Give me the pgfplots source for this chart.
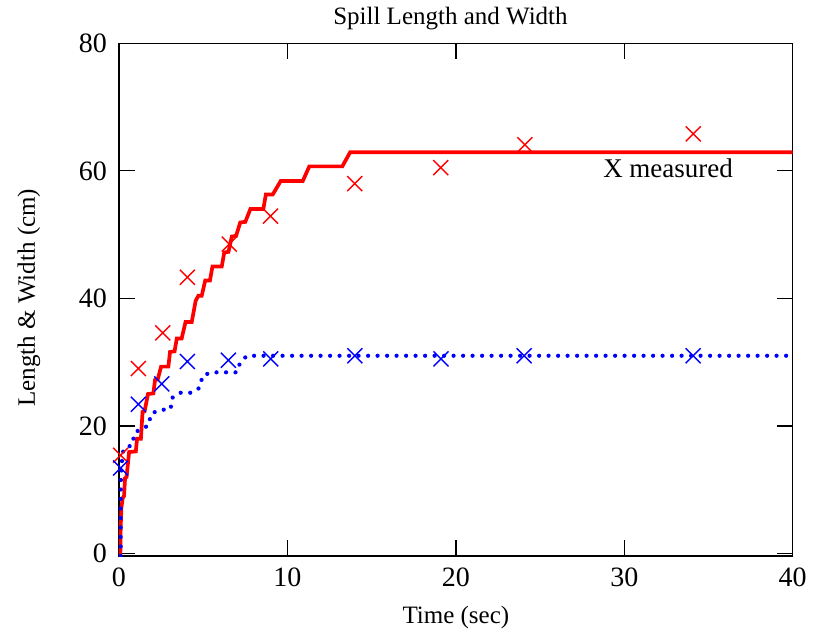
\documentclass[border=0pt]{standalone}
\usepackage{fontspec}
\setmainfont{Liberation Serif}
\usepackage{pgfplots}
\pgfplotsset{compat=1.18}
\definecolor{pred}{RGB}{255,0,0}
\definecolor{pblue}{RGB}{0,0,255}
\begin{document}
\begin{tikzpicture}[x=1pt,y=1pt]
\useasboundingbox (-119,-76) rectangle (698,556);
\begin{axis}[
  at={(0,0)}, anchor=south west,
  scale only axis, width=673.7pt, height=512.7pt,
  xmin=0, xmax=40, ymin=-0.4, ymax=80,
  xtick={0,10,20,30,40}, ytick={0,20,40,60,80},
  minor tick num=0,
  tick align=inside, major tick length=16pt,
  axis line style={line width=1.3pt, black},
  tick style={line width=1.3pt, black},
  /pgf/number format/assume math mode=true,
  ticklabel style={font=\fontsize{28}{28}\selectfont, inner sep=0pt},
  xticklabel style={yshift=-12pt},
  yticklabel style={xshift=-12pt},
  title={Spill Length and Width},
  title style={font=\fontsize{25}{25}\selectfont, at={(axis description cs:0.492,1.0244)}, anchor=base, inner sep=0pt},
  xlabel={Time (sec)},
  xlabel style={font=\fontsize{25}{25}\selectfont, at={(axis description cs:0.5,-0.1307)}, anchor=base, inner sep=0pt},
  ylabel={Length \& Width (cm)},
  ylabel style={font=\fontsize{25}{25}\selectfont, at={(axis description cs:-0.1247,0.504)}, anchor=base, inner sep=0pt},
]
% red line (length)
\addplot[pred, line width=3.7pt, line join=miter] coordinates {
(0.08,-0.4) (0.1,4) (0.14,7.1) (0.22,8.7) (0.3,9.0) (0.36,11.8) (0.45,12.0)
(0.6,15.9) (1.0,16.0) (1.07,18.0) (1.3,18.0) (1.4,22.2) (1.52,22.3)
(1.72,25.0) (2.04,25.1) (2.14,27.2) (2.3,27.3) (2.5,29.3) (2.93,29.3)
(3.03,31.6) (3.3,31.7) (3.43,33.7) (3.72,33.7) (3.95,36.3) (4.32,36.3)
(4.55,39.6) (4.71,40.4) (4.91,40.4) (5.12,42.8) (5.40,42.8) (5.55,45.0)
(6.10,45.0) (6.25,47.2) (6.5,47.3) (6.7,49.7) (6.95,49.8) (7.2,51.9)
(7.5,52.0) (7.8,54.0) (8.57,54.0) (8.72,56.3) (9.13,56.3) (9.6,58.4)
(10.91,58.4) (11.3,60.7) (13.26,60.7) (13.72,62.9) (40,62.9)
};
% red measured
\addplot[only marks, mark=x, mark size=10.6pt, pred, mark options={line width=1.4pt}] coordinates {
(0.1,15.4) (1.15,29.0) (2.6,34.6) (4.06,43.3) (6.55,48.5) (9.0,52.9)
(14.0,58.0) (19.1,60.5) (24.1,64.1) (34.1,65.8)
};
% blue line (width)
\addplot[pblue, line width=4.2pt, line cap=round, dash pattern=on 0pt off 9.5pt] coordinates {
(0.1,-0.4) (0.1,8) (0.12,12) (0.2,15.5) (0.3,16.5) (0.8,17.0) (0.9,18.8)
(1.3,19.6) (1.75,20.0) (1.9,21.9) (2.4,22.5) (3.06,22.6) (3.16,24.4)
(3.6,25.2) (4.3,25.2) (4.8,26.0) (4.96,27.9) (5.5,28.4) (7.0,28.4)
(7.2,30.0) (7.6,31.0) (40,31.0)
};
% blue measured
\addplot[only marks, mark=x, mark size=10.6pt, pblue, mark options={line width=1.4pt}] coordinates {
(0.1,13.4) (1.15,23.4) (2.54,26.6) (4.06,30.1) (6.49,30.3) (9.01,30.5)
(14.01,31.0) (19.12,30.5) (24.05,31.0) (34.09,31.0)
};
\node[anchor=base west, inner sep=0pt, font=\fontsize{27}{27}\selectfont] at (axis cs:28.74,58.92) {X measured};
\end{axis}
\end{tikzpicture}
\end{document}
